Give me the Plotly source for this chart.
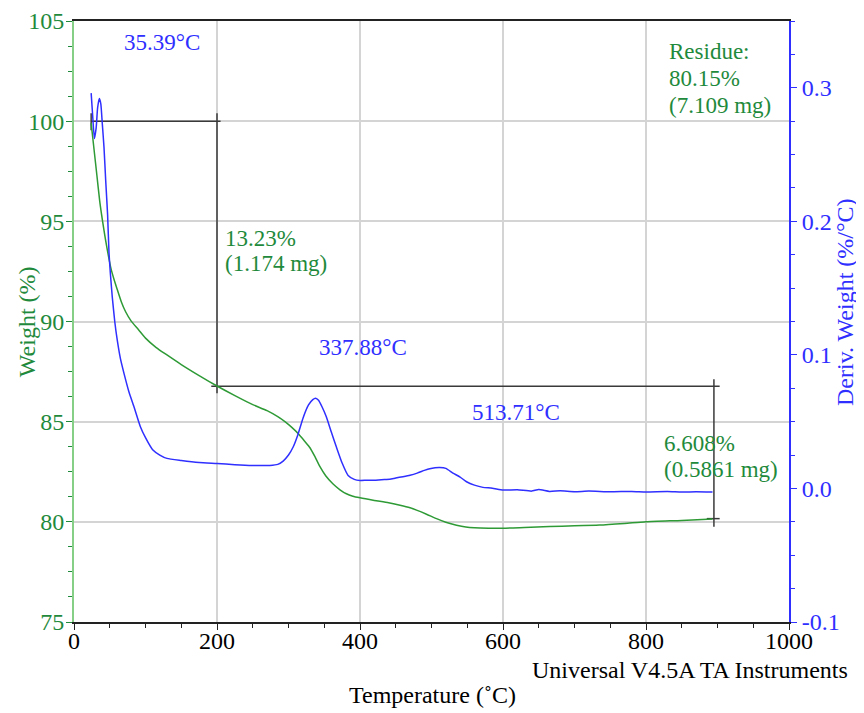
import plotly.graph_objects as go

# ---------------- data ----------------
tga_temp = [24, 28, 32, 36, 40, 44, 48, 52, 56, 60, 66, 72, 80, 90, 100, 115, 130, 150, 175,
            200, 225, 250, 270, 285, 295, 305, 315, 322, 330, 337, 344, 352, 362, 372, 381,
            390, 400, 420, 440, 456, 470, 480, 493, 507, 520, 535, 548, 560, 580, 600, 630,
            665, 700, 735, 770, 800, 850, 893]
tga_weight = [99.9, 98.6, 97.3, 96.0, 95.0, 94.1, 93.3, 92.6, 92.1, 91.65, 91.0, 90.5, 90.02,
              89.6, 89.17, 88.7, 88.33, 87.85, 87.3, 86.78, 86.3, 85.85, 85.55, 85.25, 85.0,
              84.7, 84.35, 84.05, 83.7, 83.25, 82.75, 82.3, 81.9, 81.6, 81.4, 81.28, 81.2,
              81.07, 80.95, 80.83, 80.7, 80.57, 80.38, 80.16, 79.98, 79.83, 79.74, 79.7, 79.68,
              79.68, 79.72, 79.77, 79.8, 79.84, 79.92, 80.0, 80.07, 80.14]

dtg_temp = [24, 26, 28.5, 31, 33, 35.4, 37.5, 39.6, 42, 44.3, 47, 49, 51, 53.6, 57, 60.5, 65,
            70, 77, 84, 93, 100, 110, 120, 130, 150, 175, 200, 225, 250, 274, 285, 292.5, 300,
            306.5, 313, 320.5, 328, 334, 337.9, 342, 347, 353, 360, 367, 375, 383.4, 392, 400,
            410, 420, 430, 441.6, 450, 460, 470, 480, 490, 497.6, 505, 511.5, 520, 530, 540,
            549, 560, 572, 585, 600, 620, 640, 650, 665, 680, 700, 720, 750, 780, 800, 830,
            850, 870, 893]
dtg_value = [0.296, 0.280, 0.262, 0.270, 0.285, 0.292, 0.288, 0.273, 0.255, 0.231, 0.205,
             0.176, 0.160, 0.143, 0.125, 0.111, 0.097, 0.086, 0.072, 0.061, 0.046, 0.038,
             0.029, 0.025, 0.0225, 0.021, 0.0195, 0.0187, 0.0178, 0.0172, 0.0172, 0.018,
             0.0205, 0.025, 0.031, 0.040, 0.053, 0.0625, 0.0665, 0.0675, 0.066, 0.061,
             0.0535, 0.042, 0.031, 0.019, 0.0097, 0.0068, 0.006, 0.0062, 0.0061, 0.0066,
             0.0068, 0.0078, 0.0088, 0.0099, 0.0115, 0.0135, 0.0148, 0.0155, 0.0157, 0.0150,
             0.0115, 0.0085, 0.0050, 0.0025, 0.0008, 0.0002, -0.0012, -0.0010, -0.0020,
             -0.0008, -0.0022, -0.0018, -0.0024, -0.0020, -0.0025, -0.0022, -0.0026, -0.0023,
             -0.0027, -0.0025, -0.0027]

# step-analysis markers: temperatures and weights at the limits of each step
step_temp = [24, 200, 895]
step_weight = [100.0, 86.77, 80.16]

x_ticks = [0, 200, 400, 600, 800, 1000]
y_ticks = [75, 80, 85, 90, 95, 100, 105]
y2_tickvals = [-0.1, 0.0, 0.1, 0.2, 0.3]
y2_ticktext = ["-0.1", "0.0", "0.1", "0.2", "0.3"]

GREEN_TXT = "#1f8a3c"
GREEN_LINE = "#2e9a36"
BLUE = "#2f2fff"
FONT = "Liberation Serif"

fig = go.Figure()

# step marker lines
mk = dict(color="#3a3a3a", width=1.5)
segs = [
    ([step_temp[0], step_temp[0]], [step_weight[0] + 0.4, step_weight[0] - 0.45]),
    ([step_temp[0], step_temp[1] + 5], [step_weight[0], step_weight[0]]),
    ([step_temp[1], step_temp[1]], [step_weight[0] + 0.4, step_weight[1] - 0.35]),
    ([step_temp[1] - 8, step_temp[2] + 8], [step_weight[1], step_weight[1]]),
    ([step_temp[2], step_temp[2]], [step_weight[1] + 0.35, step_weight[2] - 0.4]),
    ([step_temp[2] - 10, step_temp[2] + 8], [step_weight[2], step_weight[2]]),
]
for xs, ys in segs:
    fig.add_trace(go.Scatter(x=xs, y=ys, mode="lines", line=mk, showlegend=False,
                             hoverinfo="skip"))

fig.add_trace(go.Scatter(x=tga_temp, y=tga_weight, mode="lines", name="Weight",
                         line=dict(color=GREEN_LINE, width=1.5, shape="spline", smoothing=0.6),
                         showlegend=False))
fig.add_trace(go.Scatter(x=dtg_temp, y=dtg_value, mode="lines", name="Deriv. Weight",
                         yaxis="y2",
                         line=dict(color=BLUE, width=1.5, shape="spline", smoothing=0.5),
                         showlegend=False))

ann = []
def txt(x, y, s, color, xanchor="left", size=23):
    ann.append(dict(x=x, y=y, xref="x", yref="y", text=s, showarrow=False,
                    xanchor=xanchor, yanchor="middle",
                    font=dict(family=FONT, size=size, color=color)))

txt(123, 103.94, "35.39°C", BLUE, "center")
txt(830, 103.46, "Residue:", GREEN_TXT)
txt(830, 102.13, "80.15%", GREEN_TXT)
txt(830, 100.8, "(7.109 mg)", GREEN_TXT)
txt(207.8, 94.16, "13.23%", GREEN_TXT)
txt(207.8, 92.91, "(1.174 mg)", GREEN_TXT)
txt(404, 88.72, "337.88°C", BLUE, "center")
txt(617.7, 85.47, "513.71°C", BLUE, "center")
txt(821.8, 83.91, "6.608%", GREEN_TXT)
txt(821.8, 82.61, "(0.5861 mg)", GREEN_TXT)

ann.append(dict(x=-0.0657, y=0.499, xref="paper", yref="paper", text="Weight (%)",
                textangle=-90, showarrow=False, xanchor="center", yanchor="middle",
                font=dict(family=FONT, size=24, color=GREEN_TXT)))
ann.append(dict(x=1.078, y=0.532, xref="paper", yref="paper", text="Deriv. Weight (%/°C)",
                textangle=-90, showarrow=False, xanchor="center", yanchor="middle",
                font=dict(family=FONT, size=24, color=BLUE)))
ann.append(dict(x=0.5007, y=-0.1215, xref="paper", yref="paper", text="Temperature (˚C)",
                showarrow=False, xanchor="center", yanchor="middle",
                font=dict(family=FONT, size=24, color="black")))
ann.append(dict(x=1.085, y=-0.0799, xref="paper", yref="paper",
                text="Universal V4.5A TA Instruments",
                showarrow=False, xanchor="right", yanchor="middle",
                font=dict(family=FONT, size=24, color="black")))

# the page body adds an 8 px offset, so the figure is 856x705 with shifted margins
fig.update_layout(
    width=856, height=705,
    margin=dict(l=66, r=75, t=13, b=91, autoexpand=False),
    paper_bgcolor="white", plot_bgcolor="white",
    font=dict(family=FONT, size=24),
    annotations=ann,
    xaxis=dict(range=[0, 1000], tickvals=x_ticks, showgrid=True, gridcolor="#d4d4d4",
               gridwidth=1.5, zeroline=False, showline=True, linecolor="#222222",
               linewidth=2, mirror=True, ticks="outside", ticklen=6, tickcolor="#222222",
               automargin=False, ticklabelstandoff=-10,
               tickfont=dict(family=FONT, size=24, color="black"),
               minor=dict(dtick=50, ticks="outside", ticklen=4, tickcolor="#222222",
                          showgrid=False)),
    yaxis=dict(range=[75, 105], tickvals=y_ticks, showgrid=True, gridcolor="#d4d4d4",
               gridwidth=1.5, zeroline=False, showline=True, linecolor="#86cf86",
               linewidth=2, ticks="outside", ticklen=6, tickcolor=GREEN_TXT,
               automargin=False, ticklabelstandoff=-3,
               tickfont=dict(family=FONT, size=24, color=GREEN_TXT),
               minor=dict(dtick=1.25, tick0=75, ticks="outside", ticklen=4,
                          tickcolor=GREEN_TXT, showgrid=False)),
    yaxis2=dict(range=[-0.1, 0.35], overlaying="y", side="right", tickvals=y2_tickvals,
                ticktext=y2_ticktext, showgrid=False, zeroline=False, showline=True,
                linecolor=BLUE, linewidth=2, ticks="outside", ticklen=6, tickcolor=BLUE,
                automargin=False,
                tickfont=dict(family=FONT, size=24, color=BLUE),
                minor=dict(dtick=0.025, tick0=-0.1, ticks="outside", ticklen=4,
                           tickcolor=BLUE, showgrid=False)),
)

fig.write_html("out.html")
